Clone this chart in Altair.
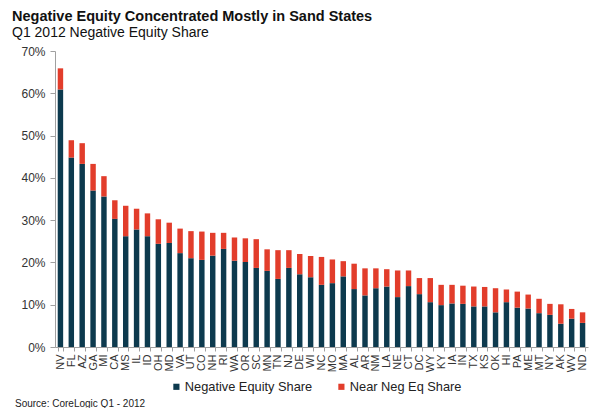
import altair as alt
import pandas as pd

states = ["NV","FL","AZ","GA","MI","CA","MS","IL","ID","OH","MD","VA","UT","CO","NH","RI",
          "WA","OR","SC","MN","TN","NJ","DE","WI","NC","MO","MA","AL","AR","NM","LA","NE",
          "CT","DC","WY","KY","IA","IN","TX","KS","OK","HI","PA","ME","MT","NY","AK","WV","ND"]

neg_equity = [60.9,44.8,43.3,37.0,35.6,30.3,26.2,27.8,26.2,24.4,24.6,22.2,21.0,20.6,21.6,23.2,
              20.4,20.1,18.7,18.0,16.1,18.7,17.2,16.5,14.7,15.1,16.7,13.7,12.2,13.9,14.3,11.8,
              14.4,12.5,10.6,9.9,10.3,10.2,9.6,9.6,8.2,10.6,9.3,9.1,8.0,7.6,5.5,6.7,5.7]

total_share = [65.9,48.9,48.2,43.3,40.4,34.7,33.4,32.7,31.6,30.2,29.4,28.0,27.4,27.3,27.0,27.0,
               25.9,25.7,25.5,23.1,22.9,22.9,22.0,21.5,21.3,20.7,20.3,19.7,18.6,18.6,18.4,18.1,
               18.1,16.3,16.3,14.7,14.7,14.5,14.3,14.2,13.9,13.6,13.1,12.4,11.4,10.2,10.1,9.0,8.2]

series = ["Negative Equity Share", "Near Neg Eq Share"]
colors = ["#0d3a4e", "#e23d2b"]

rows = []
for i, s in enumerate(states):
    rows.append({"state": s, "series": series[0], "value": neg_equity[i] / 100, "ord": 0})
    rows.append({"state": s, "series": series[1], "value": (total_share[i] - neg_equity[i]) / 100, "ord": 1})
df = pd.DataFrame(rows)

FONT = "Liberation Sans"

bars = alt.Chart(df).mark_bar().encode(
    x=alt.X("state:N", sort=states, title=None,
            scale=alt.Scale(paddingInner=0.5, paddingOuter=0.25),
            axis=alt.Axis(labelAngle=270, labelFontSize=11, labelColor="#333333",
                          labelFont=FONT, labelPadding=3,
                          domainColor="#a0a0a0", tickColor="#a0a0a0", tickSize=4,
                          tickBand="extent")),
    y=alt.Y("value:Q", stack="zero", title=None,
            scale=alt.Scale(domain=[0, 0.7], nice=False),
            axis=alt.Axis(format=".0%", values=[0, 0.1, 0.2, 0.3, 0.4, 0.5, 0.6, 0.7],
                          labelFontSize=12, labelColor="#333333", labelFont=FONT,
                          grid=False, domainColor="#a0a0a0", tickColor="#a0a0a0",
                          tickSize=5, labelPadding=5)),
    color=alt.Color("series:N", sort=series,
                    scale=alt.Scale(domain=series, range=colors),
                    legend=alt.Legend(title=None, orient="none", direction="horizontal",
                                      legendX=115, legendY=329,
                                      symbolType="square", symbolSize=38,
                                      symbolStrokeWidth=0,
                                      labelFontSize=12.8, labelFont=FONT, labelColor="#222222",
                                      columnPadding=22, symbolOffset=0, labelOffset=2)),
    order=alt.Order("ord:Q"),
)

source = alt.Chart(pd.DataFrame({"t": ["Source:  CoreLogic  Q1 - 2012"]})).mark_text(
    align="left", baseline="middle", fontSize=10, font=FONT, color="#222222"
).encode(x=alt.value(-40), y=alt.value(353), text="t:N")

chart = alt.layer(bars, source).properties(
    width=533, height=296,
    padding={"left": 47, "top": 43, "right": 4, "bottom": 61},
    autosize=alt.AutoSizeParams(type="none"),
    title=alt.Title("Negative Equity Concentrated Mostly in Sand States",
                    subtitle="Q1 2012 Negative Equity Share",
                    anchor="start", frame="group", dx=-43, offset=4,
                    font=FONT, fontSize=14.5, fontWeight="bold", color="#111111",
                    subtitleFont=FONT, subtitleFontSize=14, subtitleColor="#111111",
                    subtitlePadding=2),
).configure_view(stroke=None)

chart.save("out.html", embed_options={"renderer": "svg", "actions": False})
